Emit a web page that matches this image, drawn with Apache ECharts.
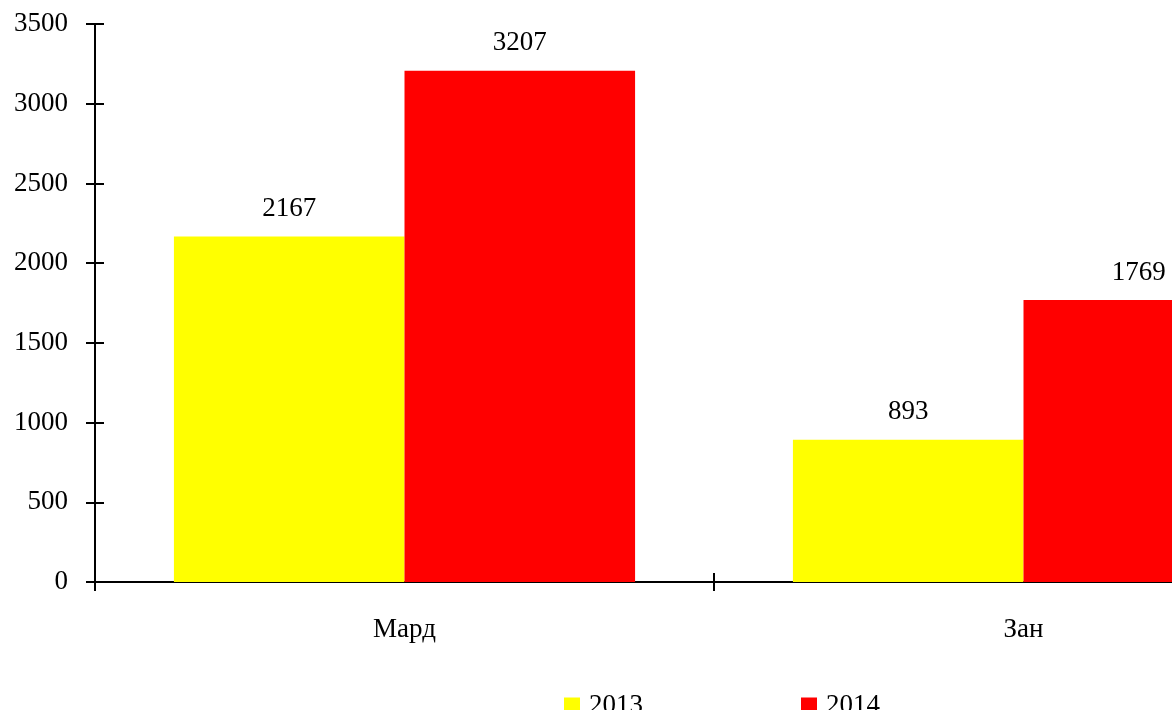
<!DOCTYPE html>
<html>
<head>
<meta charset="utf-8">
<script src="https://cdn.jsdelivr.net/npm/echarts@6/dist/echarts.min.js"></script>
<style>
  html, body { margin: 0; padding: 0; background: #fff; overflow: hidden; }
  /* the plot runs on past the right edge of the visible page */
  #chart { width: 1400px; height: 710px; }
</style>
</head>
<body>
<div id="chart"></div>
<script>
// Categories and yearly values
const categories = ['Мард', 'Зан'];
const seriesNames = ['2013', '2014'];
const values2013 = [2167, 893];
const values2014 = [3207, 1769];
const yMin = 0;
const yMax = 3500;
const yStep = 500;

const FONT = 'Liberation Serif';
const plotRect = { left: 95, top: 24, width: 1238, height: 558 };
const TICK = 9;

const chart = echarts.init(document.getElementById('chart'));

const labelStyle = {
  show: true,
  position: 'top',
  distance: 14,
  color: '#000',
  fontFamily: FONT,
  fontSize: 27
};

const tickLine = { color: '#000', width: 2 };

chart.setOption({
  animation: false,
  backgroundColor: '#fff',
  textStyle: { fontFamily: FONT },
  grid: Object.assign({ containLabel: false }, plotRect),
  legend: {
    data: seriesNames,
    left: 559,
    top: 687,
    icon: 'rect',
    itemWidth: 16,
    itemHeight: 16,
    itemGap: 158,
    textStyle: { fontFamily: FONT, fontSize: 27, color: '#000', padding: [0, 0, 0, 4] }
  },
  xAxis: [
    {
      type: 'category',
      data: categories,
      position: 'bottom',
      axisLine: { onZero: false, lineStyle: tickLine },
      axisTick: { show: true, length: TICK, lineStyle: tickLine },
      axisLabel: { color: '#000', fontFamily: FONT, fontSize: 27, margin: 34 },
      splitLine: { show: false }
    },
    {
      // upper halves of the crossing category ticks, moved down onto the base line
      type: 'category',
      data: categories,
      position: 'top',
      offset: -plotRect.height,
      axisLine: { show: false, onZero: false },
      axisTick: { show: true, length: TICK, lineStyle: tickLine },
      axisLabel: { show: false },
      splitLine: { show: false }
    }
  ],
  yAxis: [
    {
      type: 'value',
      position: 'left',
      min: yMin,
      max: yMax,
      interval: yStep,
      axisLine: { show: true, onZero: false, lineStyle: tickLine },
      axisTick: { show: true, length: TICK, lineStyle: tickLine },
      axisLabel: {
        color: '#000', fontFamily: FONT, fontSize: 27, margin: 27,
        formatter: v => String(v)
      },
      splitLine: { show: false }
    },
    {
      // right halves of the crossing value ticks, moved across onto the left axis line
      type: 'value',
      position: 'right',
      offset: -plotRect.width,
      min: yMin,
      max: yMax,
      interval: yStep,
      axisLine: { show: false, onZero: false },
      axisTick: { show: true, length: TICK, lineStyle: tickLine },
      axisLabel: { show: false },
      splitLine: { show: false }
    }
  ],
  series: [
    {
      name: seriesNames[0],
      type: 'bar',
      data: values2013,
      itemStyle: { color: '#FFFF00' },
      barGap: '0%',
      barCategoryGap: '25.5%',
      label: labelStyle
    },
    {
      name: seriesNames[1],
      type: 'bar',
      data: values2014,
      itemStyle: { color: '#FF0000' },
      barGap: '0%',
      barCategoryGap: '25.5%',
      label: labelStyle
    },
    {
      // invisible series bound to the secondary axes
      name: 'tickLayer',
      type: 'line',
      xAxisIndex: 1,
      yAxisIndex: 1,
      data: values2013,
      silent: true,
      symbol: 'none',
      lineStyle: { opacity: 0 },
      z: 0
    }
  ]
});
</script>
</body>
</html>
